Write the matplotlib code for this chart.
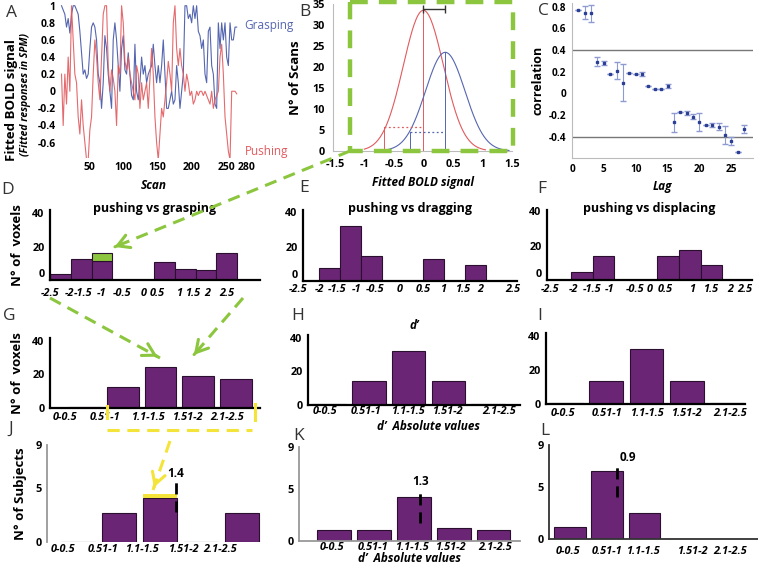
import matplotlib.pyplot as plt
import numpy as np

plt.rcParams['font.family'] = ['Open Sans', 'DejaVu Sans']

W, H = 758, 567
PURPLE = '#6a2675'
EDGE = '#2a0f2e'
GREEN = '#8cc63e'
YELLOW = '#f4e43a'
BLUE = '#5566b0'
RED = '#e25a5e'

# ---- A: fitted BOLD time courses (read every ~2.4 scans)
grasping = [1.0, 0.95, 0.9, 0.75, 0.85, 0.68, 0.9, 1.0, 1.0, 0.95,
            0.9, 0.7, 0.45, 0.2, 0.25, 0.15, 0.2, 0.5, 0.75, 0.8,
            0.75, 0.6, 0.2, 0.1, -0.2, 0.1, 0.65, 0.5, 0.2, 0.0,
            -0.2, 0.6, 0.8, 0.6, 0.3, 0.0, 0.5, 0.65, 0.25, 0.2,
            0.45, 0.2, -0.05, -0.1, 0.55, 0.0, -0.1, 0.1, 0.4, 0.2,
            0.3, 0.1, 0.2, 0.25, 0.3, 0.55, 0.3, 0.1, 0.3, 0.1,
            0.3, 0.6, 0.2, -0.2, -0.2, -0.1, 0.0, -0.15, -0.1, 0.3,
            0.1, -0.2, 0.0, 0.2, 1.0, 1.0, 0.85, 0.9, 0.8, 1.0,
            0.85, 1.0, 0.7, 0.65, 0.5, 0.6, 0.2, 0.1, 0.7, 0.75,
            0.3, 0.2, -0.15, -0.2, 0.8, 0.5, 0.8, 0.6, 0.8, 0.4,
            0.3, 0.8, 0.6, 0.6, 0.75, 0.75]
pushing = [0.2, -0.4, 0.2, -0.15, 0.4, 0.0, 1.0, 0.6, 0.2, 0.1,
           -0.3, -0.5, -0.1, -0.4, -0.6, -0.8, -0.8, -0.45, -0.3, 0.2,
           0.6, 0.4, 0.1, -0.1, 0.4, 0.9, 1.0, 1.0, 0.3, 0.0,
           0.25, 0.15, 0.0, -0.4, 0.3, 0.2, 1.0, 0.8, 0.35, 0.25,
           0.4, 0.2, 0.1, 0.0, -0.1, 0.3, 0.2, -0.2, 0.1, -0.1,
           0.0, 0.1, -0.2, 0.15, 0.5, 0.2, -0.3, -0.6, -0.8, -0.5,
           -0.2, -0.3, -0.1, 0.1, 0.35, 0.2, 0.0, 0.8, 1.0, 0.5,
           0.3, 0.5, 0.3, 0.2, 0.0, 0.2, 0.1, -0.05, 0.0, -0.15,
           -0.1, 0.0, -0.05, 0.0, 0.0, -0.05, 0.0, -0.05, -0.1, -0.15,
           0.0, -0.2, -0.1, -0.05, 0.0, 0.4, 0.55, 0.2, -0.3, -0.5,
           -0.7, -0.8, 0.0, 0.0, 0.0, -0.03]
scan_first, scan_last = 10, 265

# ---- B: gaussian fits (mean, sd, peak) and the 5-scan thresholds
fit_push = (0.0, 0.34, 33.5)
fit_grasp = (0.37, 0.335, 23.5)
thr_push = (-0.67, 5.6)
thr_grasp = (-0.22, 4.6)

# ---- C: autocorrelation
lags = list(range(1, 28))
corr = [0.77, 0.745, 0.738, 0.292, 0.277, 0.178, 0.209, 0.098, 0.191, 0.178,
        0.178, 0.068, 0.037, 0.037, 0.068, -0.268, -0.172, -0.185, -0.215, -0.265,
        -0.295, -0.295, -0.308, -0.385, -0.44, -0.545, -0.329]
corr_err = [0, 0.062, 0.08, 0.04, 0.018, 0, 0.077, 0.174, 0, 0,
            0.023, 0, 0, 0, 0.017, 0.086, 0, 0.02, 0.026, 0.085,
            0, 0.02, 0.034, 0.085, 0.037, 0, 0.035]

# ---- D-F: d' histograms (bin left edge, count)
signed_ticks = ['-2.5', '-2', '-1.5', '-1', '-0.5', '0', '0.5', '1', '1.5', '2', '2.5']
d_edges = [-2.5, -2.0, -1.5, 0.0, 0.5, 1.0, 1.5]
d_counts = [3.6, 12.4, 11.5, 11.0, 6.4, 6.0, 16.0]
d_extra = 4.5  # green part on the -1.5..-1 bin
e_edges = [-2.0, -1.5, -1.0, 0.5, 1.5]
e_counts = [7.4, 31.9, 14.5, 12.6, 9.3]
f_edges = [-2.0, -1.5, 0.0, 0.5, 1.0]
f_counts = [4.8, 14.0, 14.0, 17.4, 8.9]

# ---- G-L: absolute d' classes
abs_bins = ['0-0.5', '0.51-1', '1.1-1.5', '1.51-2', '2.1-2.5']
g_counts = [0.7, 12.4, 24.3, 19.3, 17.3]
h_counts = [0.5, 14.5, 32.4, 14.5, 0.5]
i_counts = [0.5, 13.7, 32.4, 13.7, 0.5]
j_counts = [0, 2.7, 4.1, 0, 2.7]
j_extra = 0.35
k_counts = [1.1, 1.1, 4.2, 1.25, 1.1]
l_counts = [1.15, 6.5, 2.5, 0, 0]
mean_labels = ['1.4', '1.3', '0.9']

fig = plt.figure(figsize=(W / 100, H / 100), dpi=100)


def px_axes(l, t, r, b):
    ax = fig.add_axes([l / W, 1 - b / H, (r - l) / W, (b - t) / H])
    ax.patch.set_alpha(0)
    return ax


def xlabels(ax, pos, labels, off):
    for p, s in zip(pos, labels):
        ax.annotate(s, (p, 0), xycoords=('data', 'axes fraction'), xytext=(0, -off),
                    textcoords='offset pixels', ha='center', va='center',
                    fontsize=7.8, fontweight='bold', style='italic', annotation_clip=False)


def bar_axes(ax, ylim, yticks, spine_col='black', lw=1.6, bottom=True):
    ax.set_ylim(*ylim)
    ax.set_yticks(yticks)
    ax.set_xticks([])
    ax.tick_params(axis='y', length=0, pad=4, labelsize=7.8)
    for t in ax.get_yticklabels():
        t.set_fontweight('bold')
    for s in ['top', 'right']:
        ax.spines[s].set_visible(False)
    ax.spines['left'].set_color(spine_col)
    ax.spines['left'].set_linewidth(lw)
    ax.spines['bottom'].set_visible(bottom)
    ax.spines['bottom'].set_color(spine_col)
    ax.spines['bottom'].set_linewidth(lw)


# ---------------- A
axA = px_axes(60, 4, 247, 158)
scan = np.linspace(scan_first, scan_last, len(grasping))
axA.plot(scan, grasping, color=BLUE, lw=0.8)
axA.plot(scan, pushing, color=RED, lw=0.8, alpha=0.9)
axA.set_xlim(7.8, 280)
axA.set_ylim(-0.78, 1.02)
axA.set_xticks([50, 100, 150, 200, 250, 280])
axA.set_yticks([1, 0.8, 0.6, 0.4, 0.2, 0, -0.2, -0.4, -0.6])
axA.set_yticklabels(['1', '0.8', '0.6', '0.4', '0.2', '0', '-0.2', '-0.4', '-0.6'])
axA.tick_params(length=0, labelsize=7.5, pad=3)
for t in axA.get_xticklabels() + axA.get_yticklabels():
    t.set_fontweight('bold')
for s in axA.spines.values():
    s.set_visible(False)
axA.set_xlabel('Scan', fontsize=8.5, fontweight='bold', style='italic', labelpad=4)
fig.text(12 / W, 1 - 100 / H, 'Fitted BOLD signal', rotation=90, ha='center', va='center',
         fontsize=9.5, fontweight='bold')
fig.text(26 / W, 1 - 95 / H, '(Fitted responses in SPM)', rotation=90, ha='center',
         va='center', fontsize=7.5, fontweight='bold', style='italic')
fig.text(269 / W, 1 - 25 / H, 'Grasping', color=BLUE, ha='center', va='center', fontsize=8.5)
fig.text(267 / W, 1 - 152 / H, 'Pushing', color=RED, ha='center', va='center', fontsize=8.5)

# ---------------- B
axB = px_axes(333, 4, 512, 151)
for (mu, sd, peak), col, lo, hi in [(fit_push, RED, -1.0, 1.05), (fit_grasp, BLUE, -0.65, 1.45)]:
    xs = np.linspace(lo, hi, 200)
    axB.plot(xs, peak * np.exp(-(xs - mu) ** 2 / (2 * sd ** 2)), color=col, lw=0.8)
    axB.plot([mu, mu], [0, peak], color=col, lw=0.7)
for (x0, y0), (mu, sd, peak), col in [(thr_push, fit_push, RED), (thr_grasp, fit_grasp, BLUE)]:
    axB.plot([x0, x0], [0, y0], color=col, lw=0.7)
    axB.plot([x0, mu], [y0, y0], color=col, lw=0.9, ls=(0, (1.5, 2)))
axB.errorbar([fit_push[0] + (fit_grasp[0] - fit_push[0]) / 2], [33.9],
             xerr=[(fit_grasp[0] - fit_push[0]) / 2], color='#333333', lw=1, capsize=3)
axB.set_xlim(-1.53, 1.5)
axB.set_ylim(0, 35)
axB.set_xticks([-1.5, -1, -0.5, 0, 0.5, 1, 1.5])
axB.set_xticklabels(['-1.5', '-1', '-0.5', '0', '0.5', '1', '1.5'])
axB.set_yticks(range(0, 36, 5))
axB.tick_params(length=0, labelsize=7.8, pad=6)
for t in axB.get_xticklabels() + axB.get_yticklabels():
    t.set_fontweight('bold')
for s in ['top', 'right']:
    axB.spines[s].set_visible(False)
for s in ['left', 'bottom']:
    axB.spines[s].set_color('#bbbbbb')
axB.set_xlabel('Fitted BOLD signal', fontsize=8.5, fontweight='bold', style='italic', labelpad=4)
axB.set_ylabel('N° of Scans', fontsize=9.5, fontweight='bold', labelpad=7)

# ---------------- C
axC = px_axes(572, 3, 753, 158)
axC.axhline(0.4, color='#777777', lw=1)
axC.axhline(-0.4, color='#777777', lw=1)
axC.errorbar(lags, corr, yerr=corr_err, fmt='s', ms=2, color='#2b3f95',
             ecolor='#8e9bd0', elinewidth=0.8, capsize=2)
axC.set_xlim(0, 28.4)
axC.set_ylim(-0.598, 0.834)
axC.set_xticks([0, 5, 10, 15, 20, 25])
axC.set_yticks([0.8, 0.6, 0.4, 0.2, 0, -0.2, -0.4])
axC.set_yticklabels(['0.8', '0.6', '0.4', '0.2', '0', '-0.2', '-0.4'])
axC.tick_params(length=0, labelsize=7.2, pad=4)
for t in axC.get_xticklabels() + axC.get_yticklabels():
    t.set_fontweight('bold')
for s in ['top', 'right']:
    axC.spines[s].set_visible(False)
for s in ['left', 'bottom']:
    axC.spines[s].set_color('#bbbbbb')
axC.set_xlabel('Lag', fontsize=8.5, fontweight='bold', style='italic', labelpad=4)
axC.set_ylabel('correlation', fontsize=9, fontweight='bold', labelpad=3)

# ---------------- D / E / F
signed = [
    ((50, 210, 260, 280), (-2.5, 2.55), (0, 41.8), d_edges, d_counts,
     [-2.5, -2.04, -1.71, -1.25, -0.77, -0.24, 0.07, 0.6, 0.94, 1.27, 1.75], 13,
     'pushing vs grasping'),
    ((303, 210, 517, 281), (-2.38, 2.74), (0, 41.2), e_edges, e_counts,
     [-2.5, -1.98, -1.57, -1.09, -0.66, -0.06, 0.49, 0.97, 1.45, 1.86, 2.65], 9,
     'pushing vs dragging'),
    ((547, 210, 752, 280), (-2.56, 2.19), (0, 40.7), f_edges, f_counts,
     [-2.49, -1.95, -1.51, -1.1, -0.52, -0.19, 0.18, 0.8, 1.22, 1.68, 2.03], 10,
     'pushing vs displacing'),
]
axes_signed = []
for box, xl, yl, edges, counts, tpos, off, title in signed:
    ax = px_axes(*box)
    ax.bar(edges, counts, width=0.5, align='edge', color=PURPLE, edgecolor=EDGE, lw=0.8)
    ax.set_xlim(*xl)
    bar_axes(ax, yl, [0, 20, 40])
    ax.get_yticklabels()[0].set_va('bottom')
    xlabels(ax, tpos, signed_ticks, off)
    ax.set_title(title, fontsize=9, fontweight='bold', y=0.965, pad=0)
    axes_signed.append(ax)
axes_signed[0].bar([d_edges[2]], [d_extra], bottom=[d_counts[2]], width=0.5, align='edge',
                   color=GREEN, edgecolor=EDGE, lw=0.8)

# ---------------- G / H / I
absolute = [
    ((50, 337.6, 260, 408), (-0.93, 4.64), g_counts, [-0.53, 0.53, 1.67, 2.70, 3.76], 9),
    ((308, 334.6, 520, 405), (-0.53, 4.8), h_counts, [-0.1, 0.93, 1.98, 2.98, 4.27], 6),
    ((546, 332.6, 745, 404), (-0.5, 4.45), i_counts, [-0.07, 1.02, 2.01, 2.98, 4.07], 9),
]
axes_abs = []
for box, xl, counts, tpos, off in absolute:
    ax = px_axes(*box)
    ax.bar(range(len(counts)), counts, width=0.84, color=PURPLE, edgecolor=EDGE, lw=0.8)
    ax.set_xlim(*xl)
    bar_axes(ax, (0, 42), [0, 20, 40])
    xlabels(ax, tpos, abs_bins, off)
    axes_abs.append(ax)
axes_abs[1].set_title('d’', fontsize=8.5, fontweight='bold', style='italic', pad=4)
axes_abs[1].annotate('d’  Absolute values', (0.57, 0), xycoords='axes fraction', xytext=(0, -22),
                     textcoords='offset pixels', ha='center', va='center', fontsize=8.5,
                     fontweight='bold', style='italic', annotation_clip=False)

# ---------------- J / K / L
subjects = [
    ((47, 445, 262, 542), (-0.76, 4.49), j_counts, [-0.37, 0.61, 1.56, 2.56, 3.46], 8,
     '#999999', False, (2.39, 2.8, 5.8, 6.4)),
    ((299, 447, 520, 541), (-0.88, 4.66), k_counts, [-0.05, 0.98, 1.95, 2.91, 4.04], 7,
     '#999999', True, (2.16, 1.7, 4.9, 5.65)),
    ((549, 445, 758, 539), (-0.56, 5.05), l_counts, [-0.05, 1.0, 1.96, 3.28, 4.3], 12,
     '#333333', True, (1.26, 4.0, 7.3, 7.8)),
]
axes_sub = []
for (box, xl, counts, tpos, off, scol, bottom, mark), lab in zip(subjects, mean_labels):
    ax = px_axes(*box)
    ax.bar(range(len(counts)), counts, width=0.84, color=PURPLE, edgecolor=EDGE, lw=0.8)
    ax.set_xlim(*xl)
    bar_axes(ax, (0, 9), [0, 5, 9], spine_col=scol, lw=1.3, bottom=bottom)
    xlabels(ax, tpos, abs_bins, off)
    mx, y0, y1, ylab = mark
    ax.plot([mx, mx], [y0, y1], color='black', lw=2, ls=(0, (4, 2.5)))
    ax.text(mx + (0.3 if lab == '0.9' else 0), ylab, lab, ha='center', va='center',
            fontsize=8.5, fontweight='bold')
    axes_sub.append(ax)
axes_sub[0].bar([2], [j_extra], bottom=[j_counts[2]], width=0.84, color=YELLOW, lw=0)
axes_sub[1].annotate('d’  Absolute values', (0.5, 0), xycoords='axes fraction', xytext=(0, -18),
                     textcoords='offset pixels', ha='center', va='center', fontsize=8.5,
                     fontweight='bold', style='italic', annotation_clip=False)
for ax, ylab in [(axes_signed[0], 'N° of  voxels'), (axes_abs[0], 'N° of  voxels'),
                 (axes_sub[0], 'N° of Subjects')]:
    ax.set_ylabel(ylab, fontsize=9.5, fontweight='bold', labelpad=6)

# ---------------- overlay: letters, dashed box and arrows
ov = fig.add_axes([0, 0, 1, 1], zorder=10)
ov.set_xlim(0, W)
ov.set_ylim(H, 0)
ov.axis('off')
ov.patch.set_alpha(0)
for s, x, y in [('A', 12, 13), ('B', 305, 12), ('C', 543, 11), ('D', 8, 190), ('E', 304, 188),
                ('F', 542, 189), ('G', 9, 316), ('H', 298, 316), ('I', 540, 316),
                ('J', 11, 429), ('K', 299, 436), ('L', 545, 431)]:
    ov.text(x, y, s, ha='center', va='center', fontsize=12.5, color='#333333')

dash = (0, (4, 2.5))
ov.plot([350, 513, 513, 350, 350], [2, 2, 151, 151, 2], color=GREEN, lw=3.2, ls=dash)


def dashed_arrow(p0, p1, col):
    ov.plot([p0[0], p1[0]], [p0[1], p1[1]], color=col, lw=2.2, ls=(0, (4, 2.5)))
    d = np.array(p1) - np.array(p0)
    q = np.array(p1) - 6 * d / np.hypot(*d)
    ov.annotate('', xy=p1, xytext=q, arrowprops=dict(arrowstyle='->,head_length=0.7,head_width=0.4',
                                                     color=col, lw=2.2, mutation_scale=12))


dashed_arrow((350, 151), (112, 248), GREEN)
dashed_arrow((50, 298), (160, 358), GREEN)
dashed_arrow((243, 298), (192, 357), GREEN)
ov.plot([107, 252], [430, 430], color=YELLOW, lw=2.2, ls=dash)
ov.plot([107, 107], [406, 418], color=YELLOW, lw=2.2)
ov.plot([255, 255], [404, 420], color=YELLOW, lw=2.2)
dashed_arrow((170, 441), (153, 490), YELLOW)

plt.savefig('out.png', dpi=100)
